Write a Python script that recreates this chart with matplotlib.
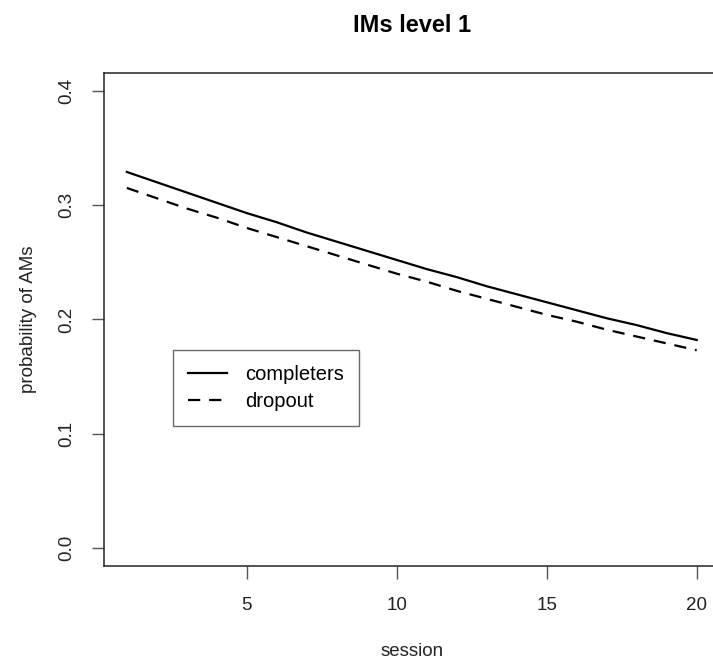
import numpy as np
import matplotlib
matplotlib.use("Agg")
import matplotlib.pyplot as plt

plt.rcParams['font.family'] = ['Liberation Sans', 'DejaVu Sans']

# fitted probabilities per session
session = list(range(1, 21))
completers = [0.329, 0.320, 0.311, 0.302, 0.293, 0.285, 0.276, 0.268, 0.260, 0.252,
              0.244, 0.237, 0.229, 0.222, 0.215, 0.208, 0.201, 0.195, 0.188, 0.182]
dropout = [0.315, 0.306, 0.297, 0.289, 0.280, 0.272, 0.264, 0.256, 0.248, 0.240,
           0.233, 0.225, 0.218, 0.211, 0.204, 0.198, 0.191, 0.185, 0.179, 0.173]

x_ticks = [5, 10, 15, 20]
y_ticks = [0.0, 0.1, 0.2, 0.3, 0.4]

fig = plt.figure(figsize=(7.13, 6.63), dpi=100)
ax = fig.add_axes([0.1459, 0.1459, 0.8632, 0.7447])

ax.plot(session, completers, color='black', lw=1.6, label='completers')
ax.plot(session, dropout, color='black', lw=1.6, dashes=[5.5, 4], label='dropout')

# R-style 4% padding
ax.set_xlim(1 - 0.76, 20 + 0.76)
ax.set_ylim(-0.016, 0.416)

ax.set_xticks(x_ticks)
ax.set_xticklabels([str(t) for t in x_ticks])
ax.set_yticks(y_ticks)
ax.set_yticklabels(['%.1f' % t for t in y_ticks], rotation=90, va='center')

ax.tick_params(axis='both', direction='out', length=9, width=1, color='#555555',
               labelsize=13.5, labelcolor='#222222')
ax.tick_params(axis='x', pad=13)
ax.tick_params(axis='y', pad=12)

for sp in ax.spines.values():
    sp.set_linewidth(1.1)
    sp.set_color('#222222')

ax.set_title('IMs level 1', fontsize=17, fontweight='bold', pad=29)
ax.set_xlabel('session', fontsize=13.5, labelpad=21, color='#222222')
ax.set_ylabel('probability of AMs', fontsize=13.5, labelpad=15, color='#222222')

leg = ax.legend(loc='upper left', bbox_to_anchor=(0.112, 0.438), fontsize=14.5,
                frameon=True, fancybox=False, handlelength=1.95, handletextpad=0.9,
                labelspacing=0.4, borderpad=0.75, borderaxespad=0)
leg.get_frame().set_edgecolor('#444444')
leg.get_frame().set_linewidth(1.0)

fig.savefig('out.png', dpi=100)
